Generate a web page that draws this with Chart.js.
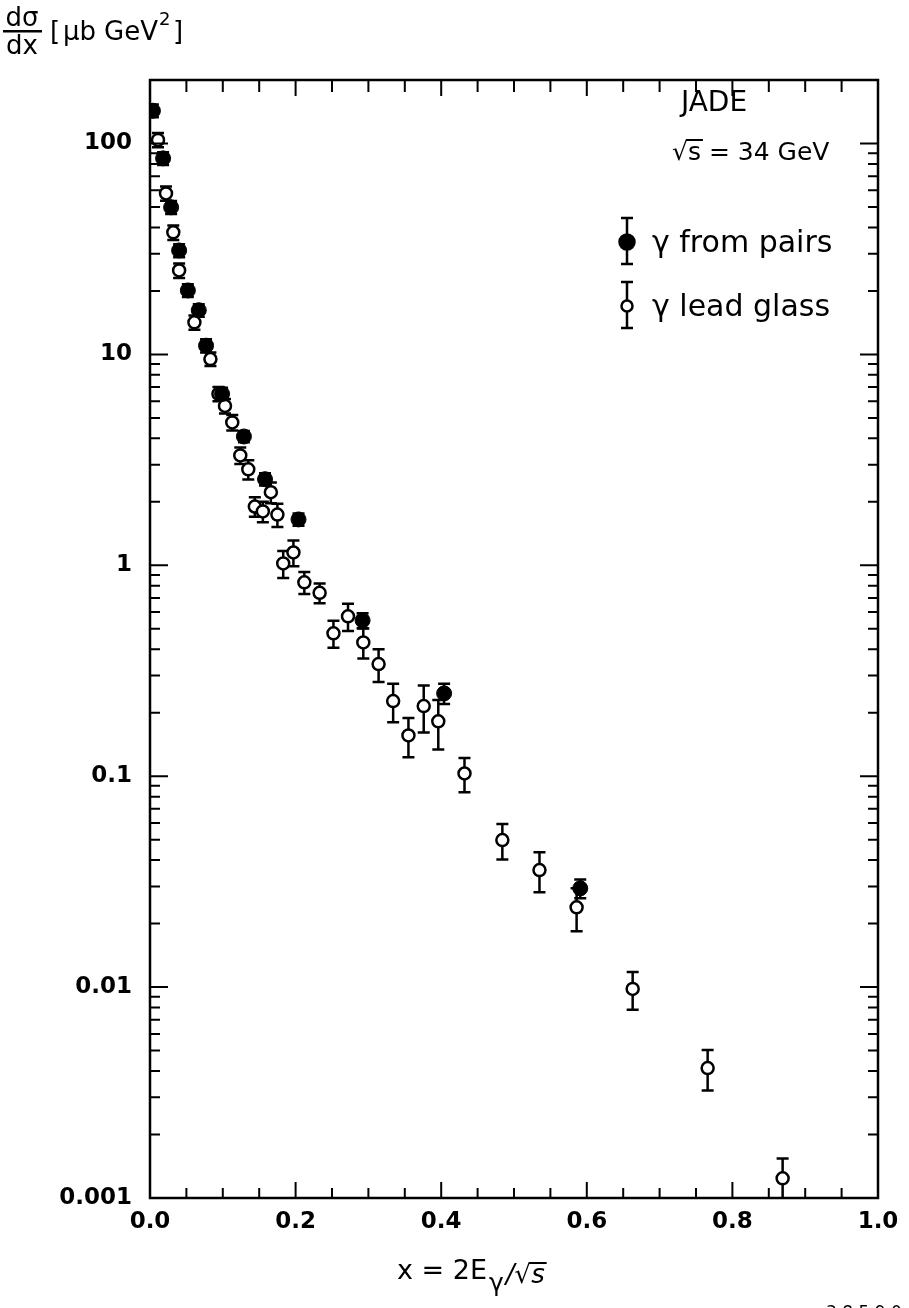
<!DOCTYPE html>
<html>
<head>
<meta charset="utf-8">
<script src="https://cdn.jsdelivr.net/npm/chart.js@4.4.1/dist/chart.umd.min.js"></script>
<style>
  html, body { margin: 0; padding: 0; background: #fff; }
  #wrap { width: 909px; height: 1308px; }
</style>
</head>
<body>
<div id="wrap"><canvas id="grafico" width="909" height="1308"></canvas></div>
<script>
// γ from pairs (filled points)
const pairsX = [0.004, 0.018, 0.029, 0.040, 0.052, 0.067, 0.077, 0.099, 0.129, 0.158, 0.204, 0.292, 0.404, 0.591];
const pairsY = [143, 85, 49.8, 31.1, 20.1, 16.2, 11.0, 6.5, 4.08, 2.56, 1.65, 0.548, 0.247, 0.0294];
const pairsErr = [10, 6, 3.5, 2.2, 1.4, 1.1, 0.8, 0.45, 0.25, 0.17, 0.11, 0.045, 0.027, 0.003];

// γ lead glass (open points)
const glassX = [0.011, 0.022, 0.032, 0.040, 0.061, 0.083, 0.094, 0.103, 0.113, 0.124, 0.135, 0.144, 0.155, 0.166, 0.175,
  0.183, 0.197, 0.212, 0.233, 0.252, 0.272, 0.293, 0.314, 0.334, 0.355, 0.376, 0.396, 0.432, 0.484, 0.535, 0.586,
  0.663, 0.766, 0.869];
const glassY = [104, 58, 37.9, 25, 14.2, 9.5, 6.5, 5.7, 4.76, 3.32, 2.85, 1.90, 1.80, 2.22, 1.74,
  1.02, 1.15, 0.83, 0.74, 0.476, 0.573, 0.431, 0.340, 0.227, 0.156, 0.215, 0.182, 0.103, 0.0498, 0.0359, 0.0239,
  0.0098, 0.00413, 0.00124];
const glassErr = [8, 4.5, 3, 2, 1.1, 0.7, 0.5, 0.45, 0.4, 0.3, 0.3, 0.2, 0.2, 0.25, 0.22,
  0.15, 0.16, 0.1, 0.08, 0.07, 0.085, 0.07, 0.06, 0.047, 0.033, 0.054, 0.048, 0.019, 0.0095, 0.0077, 0.0055,
  0.002, 0.0009, 0.0003];

// eixos
const xLabels = [0, 0.2, 0.4, 0.6, 0.8, 1.0];
const xMinor = [0.05, 0.1, 0.15, 0.25, 0.3, 0.35, 0.45, 0.5, 0.55, 0.65, 0.7, 0.75, 0.85, 0.9, 0.95];
const yLabels = [0.001, 0.01, 0.1, 1, 10, 100];
const yLabelText = ['0.001', '0.01', '0.1', '1', '10', '100'];
const yMinorMult = [2, 3, 4, 5, 6, 7, 8, 9];

const fonte = "'DejaVu Sans', sans-serif";

// barras de erro, desenhadas antes dos marcadores
const errorBars = {
  id: 'errorBars',
  beforeDatasetsDraw(chart) {
    const { ctx, scales: { x, y }, chartArea } = chart;
    ctx.save();
    ctx.beginPath();
    ctx.rect(chartArea.left, chartArea.top, chartArea.right - chartArea.left, chartArea.bottom - chartArea.top);
    ctx.clip();
    ctx.strokeStyle = '#000';
    ctx.lineWidth = 2.5;
    chart.data.datasets.forEach(ds => {
      ds.data.forEach((p, i) => {
        const e = ds.err[i];
        const px = x.getPixelForValue(p.x);
        const top = y.getPixelForValue(p.y + e);
        const bot = y.getPixelForValue(Math.max(p.y - e, 1e-6));
        ctx.beginPath();
        ctx.moveTo(px, top); ctx.lineTo(px, bot);
        ctx.moveTo(px - 6, top); ctx.lineTo(px + 6, top);
        ctx.moveTo(px - 6, bot); ctx.lineTo(px + 6, bot);
        ctx.stroke();
      });
    });
    ctx.restore();
  }
};

// moldura, ticks para dentro e textos
const moldura = {
  id: 'moldura',
  afterDraw(chart) {
    const { ctx, scales: { x, y }, chartArea: a } = chart;
    ctx.save();
    ctx.strokeStyle = '#000';
    ctx.lineWidth = 2.5;
    ctx.strokeRect(a.left, a.top, a.right - a.left, a.bottom - a.top);

    ctx.lineWidth = 2;
    ctx.beginPath();
    xLabels.forEach(v => {
      const px = x.getPixelForValue(v);
      ctx.moveTo(px, a.bottom); ctx.lineTo(px, a.bottom - 16);
      ctx.moveTo(px, a.top); ctx.lineTo(px, a.top + 16);
    });
    xMinor.forEach(v => {
      const px = x.getPixelForValue(v);
      ctx.moveTo(px, a.bottom); ctx.lineTo(px, a.bottom - 10);
      ctx.moveTo(px, a.top); ctx.lineTo(px, a.top + 12);
    });
    yLabels.forEach(d => {
      const py = y.getPixelForValue(d);
      ctx.moveTo(a.left, py); ctx.lineTo(a.left + 18, py);
      ctx.moveTo(a.right, py); ctx.lineTo(a.right - 18, py);
      yMinorMult.forEach(m => {
        const v = d * m;
        if (v > 200) return;
        const pm = y.getPixelForValue(v);
        ctx.moveTo(a.left, pm); ctx.lineTo(a.left + 10, pm);
        ctx.moveTo(a.right, pm); ctx.lineTo(a.right - 10, pm);
      });
    });
    ctx.stroke();

    ctx.fillStyle = '#000';
    ctx.textBaseline = 'alphabetic';

    // título do eixo y: dσ/dx [μb GeV²]
    ctx.font = `26px ${fonte}`;
    ctx.textAlign = 'center';
    ctx.fillText('dσ', 22, 26);
    ctx.fillText('dx', 22, 54);
    ctx.fillRect(3, 30, 39, 2.5);
    ctx.textAlign = 'left';
    ctx.fillText('[', 50, 40);
    ctx.fillText('μb', 63, 40);
    ctx.fillText('GeV', 104, 40);
    const wg = ctx.measureText('GeV').width;
    ctx.font = `18px ${fonte}`;
    ctx.fillText('2', 104 + wg + 1, 25);
    ctx.font = `26px ${fonte}`;
    ctx.fillText(']', 104 + wg + 15, 40);

    // título do eixo x: x = 2E_γ /√s
    ctx.font = `27px ${fonte}`;
    ctx.fillText('x = 2E', 397, 1279);
    let px = 397 + ctx.measureText('x = 2E').width + 2;
    ctx.font = `25px ${fonte}`;
    ctx.fillText('γ', px, 1291);
    px += ctx.measureText('γ').width + 2;
    ctx.font = `italic 26px ${fonte}`;
    ctx.fillText('/√s', px, 1283);
    const ws = ctx.measureText('/√s').width;
    const wsq = ctx.measureText('s').width;
    ctx.fillRect(px + ws - wsq - 2, 1262, wsq + 4, 2);

    // canto inferior direito
    ctx.font = `17px ${fonte}`;
    ctx.fillText('3 8 5 9 0', 826, 1318);

    // legenda
    ctx.font = `28px ${fonte}`;
    ctx.textAlign = 'center';
    ctx.fillText('JADE', 714, 111);
    ctx.textAlign = 'left';
    ctx.font = `25px ${fonte}`;
    ctx.fillText('√s = 34 GeV', 672, 160);
    const wr = ctx.measureText('√').width;
    const wsl = ctx.measureText('s').width;
    ctx.fillRect(672 + wr - 2, 139, wsl + 4, 2);

    const legenda = [
      { y: 242, txt: 'γ from pairs', cheio: true },
      { y: 306, txt: 'γ lead glass', cheio: false }
    ];
    ctx.font = `30px ${fonte}`;
    legenda.forEach(l => {
      ctx.lineWidth = 2.5;
      ctx.beginPath();
      ctx.moveTo(627, l.y - 24); ctx.lineTo(627, l.y + 22);
      ctx.moveTo(621, l.y - 24); ctx.lineTo(633, l.y - 24);
      ctx.moveTo(621, l.y + 22); ctx.lineTo(633, l.y + 22);
      ctx.stroke();
      ctx.beginPath();
      ctx.arc(627, l.y, l.cheio ? 7.5 : 5.5, 0, Math.PI * 2);
      ctx.fillStyle = l.cheio ? '#000' : '#fff';
      ctx.fill();
      ctx.stroke();
      ctx.fillStyle = '#000';
      ctx.fillText(l.txt, 652, l.y + 10);
    });
    ctx.restore();
  }
};

const ctx = document.getElementById('grafico').getContext('2d');
new Chart(ctx, {
  type: 'scatter',
  data: {
    datasets: [
      {
        label: 'γ from pairs',
        data: pairsX.map((x, i) => ({ x, y: pairsY[i] })),
        err: pairsErr,
        pointRadius: 7.5,
        pointBackgroundColor: '#000',
        pointBorderColor: '#000',
        pointBorderWidth: 1
      },
      {
        label: 'γ lead glass',
        data: glassX.map((x, i) => ({ x, y: glassY[i] })),
        err: glassErr,
        pointRadius: 6,
        pointBackgroundColor: '#fff',
        pointBorderColor: '#000',
        pointBorderWidth: 2.5
      }
    ]
  },
  options: {
    responsive: false,
    animation: false,
    layout: { padding: { left: 0, top: 80, right: 31, bottom: 0 } },
    plugins: { legend: { display: false }, tooltip: { enabled: false } },
    scales: {
      x: {
        type: 'linear', min: 0, max: 1,
        afterBuildTicks: s => { s.ticks = xLabels.map(v => ({ value: v })); },
        afterFit: s => { s.height = 110; },
        grid: { display: false, drawTicks: false },
        border: { display: false },
        ticks: {
          callback: v => v.toFixed(1),
          color: '#000', padding: 10, maxRotation: 0,
          font: { family: fonte, size: 23, weight: 'bold' }
        }
      },
      y: {
        type: 'logarithmic', min: 0.001, max: 200,
        afterBuildTicks: s => { s.ticks = yLabels.map(v => ({ value: v })); },
        afterFit: s => { s.width = 150; },
        grid: { display: false, drawTicks: false },
        border: { display: false },
        ticks: {
          callback: v => yLabelText[yLabels.indexOf(v)] ?? '',
          color: '#000', padding: 18,
          font: { family: fonte, size: 23, weight: 'bold' }
        }
      }
    }
  },
  plugins: [errorBars, moldura]
});
</script>
</body>
</html>
